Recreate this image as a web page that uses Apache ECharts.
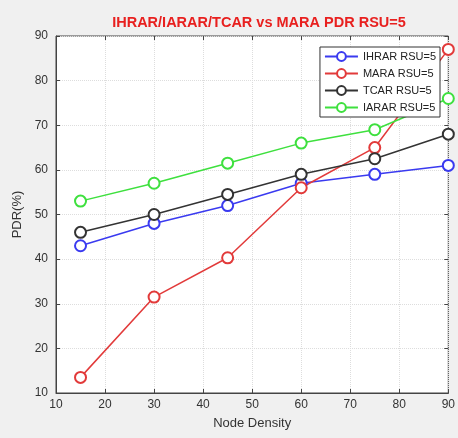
<!DOCTYPE html>
<html><head><meta charset="utf-8">
<script src="https://cdn.jsdelivr.net/npm/echarts@6/dist/echarts.min.js"></script>
<style>html,body{margin:0;padding:0;background:#f0f0f0}#c{width:458px;height:438px}</style>
</head><body><div id="c"></div>
<script>
const xValues = [15, 30, 45, 60, 75, 90];
const ihrar = [43, 48, 52, 57, 59, 61];
const mara = [13.5, 31.5, 40.3, 56, 65, 87];
const tcar = [46, 50, 54.5, 59, 62.5, 68];
const iarar = [53, 57, 61.5, 66, 69, 76];
const names = ['IHRAR RSU=5', 'MARA RSU=5', 'TCAR RSU=5', 'IARAR RSU=5'];
const colors = ['#3a3af0', '#e23a3a', '#333333', '#3ee03e'];
const seriesData = [ihrar, mara, tcar, iarar];

const chart = echarts.init(document.getElementById('c'));
const font = 'Liberation Sans, Arial, sans-serif';
const tickOnly = {
  axisLine: { show: false },
  axisTick: { show: true, inside: true, length: 4, lineStyle: { color: '#444' } },
  axisLabel: { show: false },
  splitLine: { show: false }
};
chart.setOption({
  backgroundColor: '#f0f0f0',
  animation: false,
  title: {
    text: 'IHRAR/IARAR/TCAR vs MARA PDR RSU=5',
    left: 254, top: 10, textAlign: 'center',
    textStyle: { color: '#e8201f', fontSize: 14.5, fontWeight: 'bold', fontFamily: font }
  },
  legend: {
    data: names, orient: 'vertical', right: 18, top: 47,
    backgroundColor: '#fff', borderColor: '#333', borderWidth: 1,
    padding: [4, 4, 4, 4], itemGap: 6, itemWidth: 33, itemHeight: 11,
    textStyle: { fontSize: 11, color: '#222', fontFamily: font }
  },
  grid: {
    left: 56, right: 4, top: 36, bottom: 45, show: true,
    backgroundColor: '#fff', borderColor: '#444', borderWidth: 1
  },
  xAxis: [{
    type: 'value', min: 10, max: 90, interval: 10,
    name: 'Node Density', nameLocation: 'middle', nameGap: 24,
    nameTextStyle: { fontSize: 13, color: '#333', fontFamily: font },
    axisLine: { lineStyle: { color: '#444' } },
    axisTick: { inside: true, length: 4, lineStyle: { color: '#444' } },
    axisLabel: { fontSize: 12, color: '#333', fontFamily: font, margin: 6 },
    splitLine: { show: true, lineStyle: { color: '#ddd', type: 'dotted' } }
  }, Object.assign({ type: 'value', min: 10, max: 90, interval: 10, position: 'top' }, tickOnly)],
  yAxis: [{
    type: 'value', min: 10, max: 90, interval: 10,
    name: 'PDR(%)', nameLocation: 'middle', nameGap: 30,
    nameTextStyle: { fontSize: 13, color: '#333', fontFamily: font },
    axisLine: { show: true, lineStyle: { color: '#444' } },
    axisTick: { show: true, inside: true, length: 4, lineStyle: { color: '#444' } },
    axisLabel: { fontSize: 12, color: '#333', fontFamily: font, margin: 8 },
    splitLine: { show: true, lineStyle: { color: '#ddd', type: 'dotted' } }
  }, Object.assign({ type: 'value', min: 10, max: 90, interval: 10, position: 'right' }, tickOnly)],
  series: seriesData.map((d, i) => ({
    name: names[i], type: 'line',
    data: xValues.map((x, j) => [x, d[j]]),
    symbol: 'emptyCircle', symbolSize: 11,
    itemStyle: { color: colors[i], borderWidth: 1.5 },
    lineStyle: { color: colors[i], width: 1.5 },
    clip: false
  }))
});
</script></body></html>
